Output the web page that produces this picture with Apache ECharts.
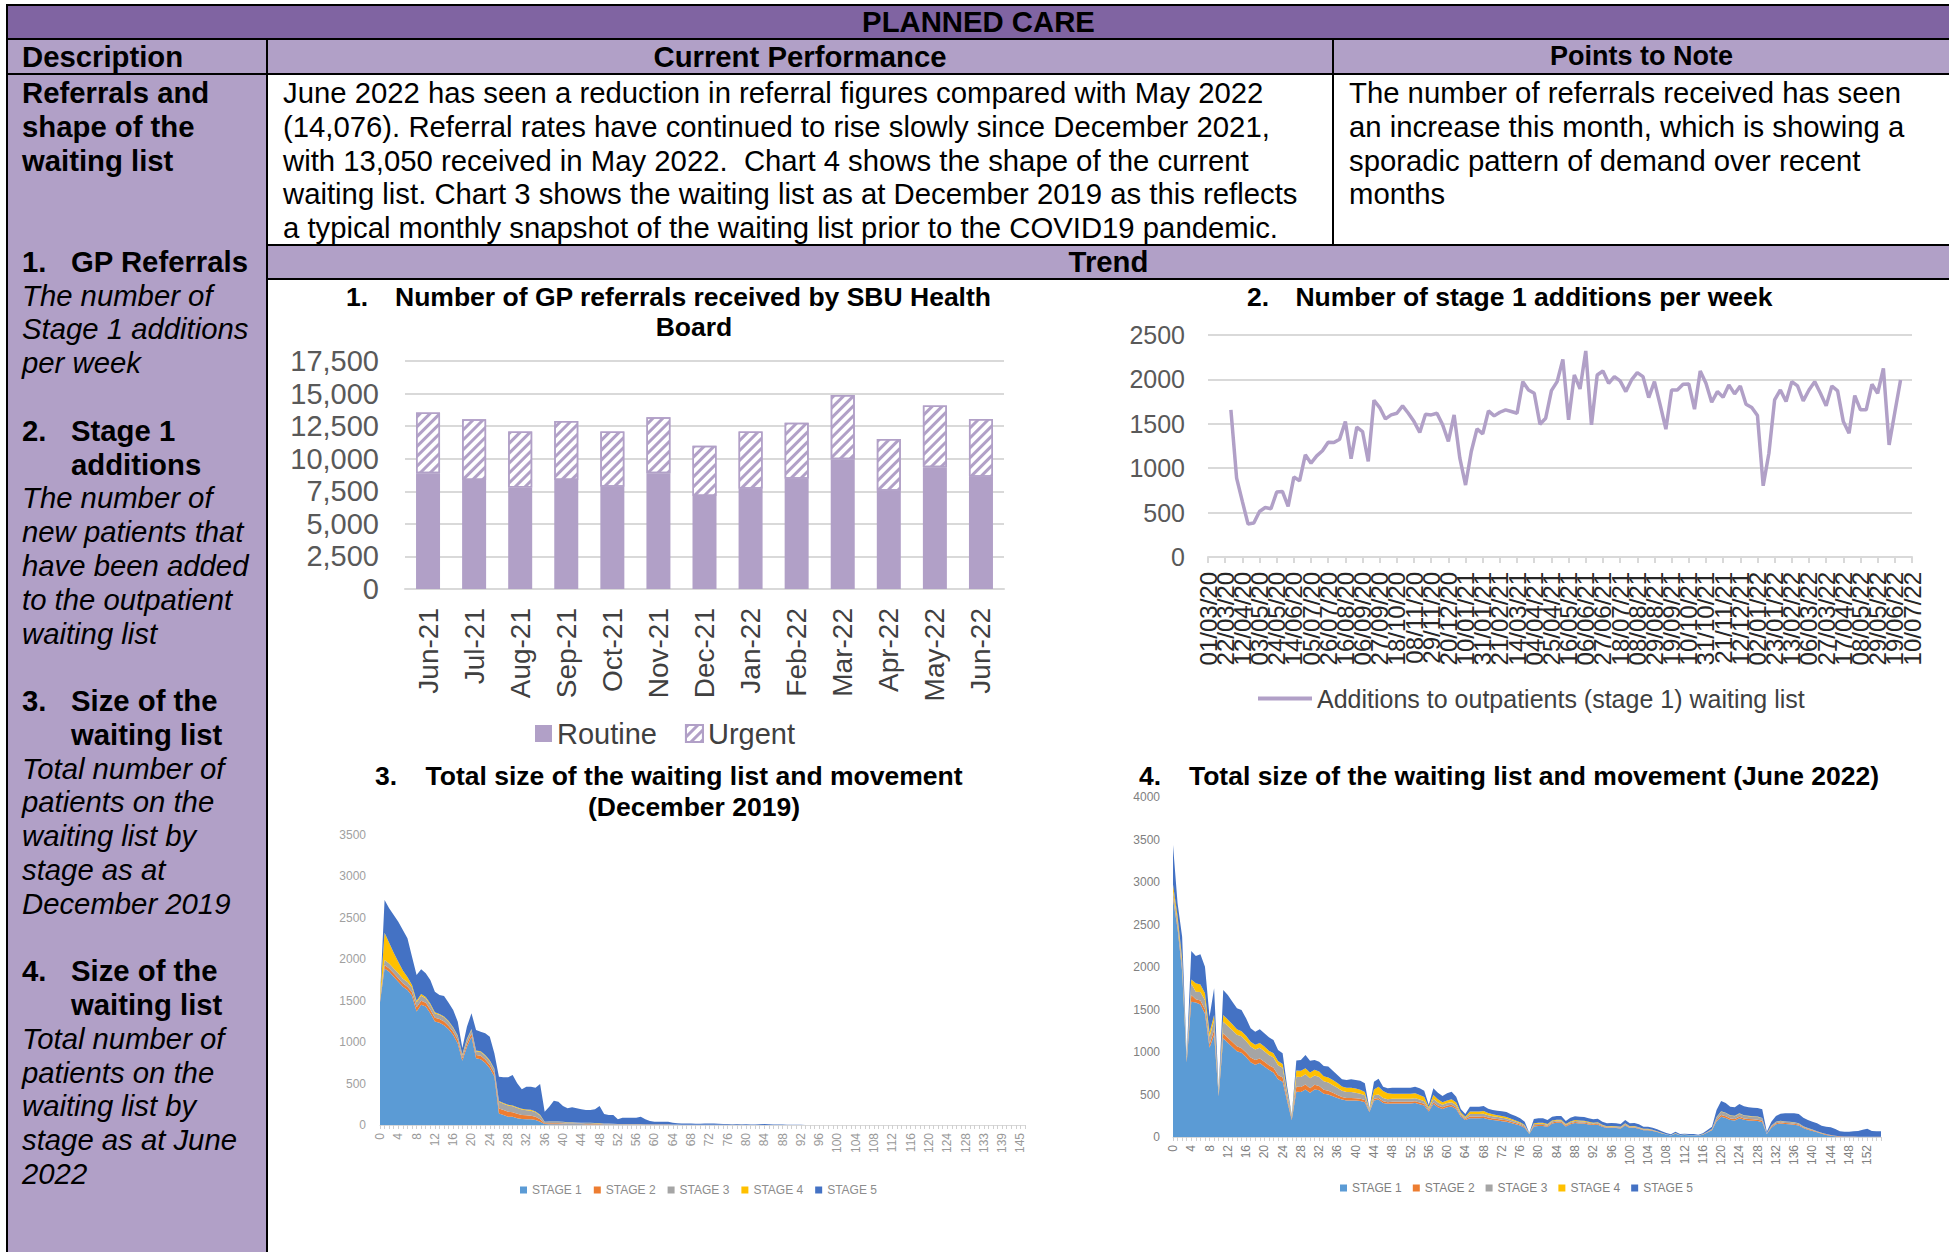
<!DOCTYPE html>
<html>
<head>
<meta charset="utf-8">
<title>Planned Care</title>
<script src="https://cdn.jsdelivr.net/npm/echarts@6/dist/echarts.min.js"></script>
<style>
  html, body { margin: 0; padding: 0; background: #fff; }
  body { width: 1949px; height: 1252px; position: relative; overflow: hidden;
         font-family: 'Liberation Sans', Arial, sans-serif; color: #000; }
  .box { position: absolute; }
  .dark { background: #8064A2; }
  .light { background: #B1A0C7; }
  .ln { position: absolute; background: #000; }
  .txt { position: absolute; font-size: 29.3px; line-height: 33.78px; white-space: nowrap; }
  .hd { font-weight: bold; text-align: center; }
  .num { display: inline-block; width: 49px; }
  #charts { position: absolute; left: 0; top: 0; width: 1949px; height: 1252px; }
</style>
</head>
<body>
<!-- table backgrounds -->
<div class="box dark" style="left:8px;top:6px;width:1941px;height:32px"></div>
<div class="box light" style="left:8px;top:40px;width:1941px;height:33px"></div>
<div class="box light" style="left:8px;top:75px;width:258px;height:1177px"></div>
<div class="box light" style="left:268px;top:246px;width:1681px;height:32px"></div>

<!-- table rules -->
<div class="ln" style="left:6px;top:4px;width:1943px;height:2px"></div>
<div class="ln" style="left:6px;top:4px;width:2px;height:1248px"></div>
<div class="ln" style="left:6px;top:38px;width:1943px;height:2px"></div>
<div class="ln" style="left:6px;top:73px;width:1943px;height:2px"></div>
<div class="ln" style="left:266px;top:40px;width:2px;height:1212px"></div>
<div class="ln" style="left:1332px;top:40px;width:2px;height:205px"></div>
<div class="ln" style="left:266px;top:244px;width:1683px;height:2px"></div>
<div class="ln" style="left:266px;top:278px;width:1683px;height:2px"></div>

<!-- headings -->
<div class="txt hd" style="left:8px;top:6px;width:1941px;line-height:32px">PLANNED CARE</div>
<div class="txt" style="left:22px;top:40px;line-height:33px;font-weight:bold">Description</div>
<div class="txt hd" style="left:268px;top:40px;width:1064px;line-height:33px">Current Performance</div>
<div class="txt hd" style="left:1334px;top:40px;width:615px;line-height:33px;font-size:27px">Points to Note</div>
<div class="txt hd" style="left:268px;top:246px;width:1681px;line-height:32px">Trend</div>

<div class="txt" style="left:283px;top:76px">
June 2022 has seen a reduction in referral figures compared with May 2022<br>
(14,076). Referral rates have continued to rise slowly since December 2021,<br>
with 13,050 received in May 2022.&nbsp; Chart 4 shows the shape of the current<br>
waiting list. Chart 3 shows the waiting list as at December 2019 as this reflects<br>
a typical monthly snapshot of the waiting list prior to the COVID19 pandemic.
</div>

<div class="txt" style="left:1349px;top:76px">
The number of referrals received has seen<br>
an increase this month, which is showing a<br>
sporadic pattern of demand over recent<br>
months
</div>

<div class="txt" style="left:22px;top:76px">
<div><b>Referrals and</b></div>
<div><b>shape of the</b></div>
<div><b>waiting list</b></div>
<div>&nbsp;</div>
<div>&nbsp;</div>
<div><b><span class="num">1.</span>GP Referrals</b></div>
<div><i>The number of</i></div>
<div><i>Stage 1 additions</i></div>
<div><i>per week</i></div>
<div>&nbsp;</div>
<div><b><span class="num">2.</span>Stage 1</b></div>
<div><b><span class="num"></span>additions</b></div>
<div><i>The number of</i></div>
<div><i>new patients that</i></div>
<div><i>have been added</i></div>
<div><i>to the outpatient</i></div>
<div><i>waiting list</i></div>
<div>&nbsp;</div>
<div><b><span class="num">3.</span>Size of the</b></div>
<div><b><span class="num"></span>waiting list</b></div>
<div><i>Total number of</i></div>
<div><i>patients on the</i></div>
<div><i>waiting list by</i></div>
<div><i>stage as at</i></div>
<div><i>December 2019</i></div>
<div>&nbsp;</div>
<div><b><span class="num">4.</span>Size of the</b></div>
<div><b><span class="num"></span>waiting list</b></div>
<div><i>Total number of</i></div>
<div><i>patients on the</i></div>
<div><i>waiting list by</i></div>
<div><i>stage as at June</i></div>
<div><i>2022</i></div>
</div>

<div id="charts"></div>

<script>
var FONT = '"Liberation Sans", Arial, sans-serif';
var LAV = '#B1A0C7';

// chart 1 - GP referrals
var months = ['Jun-21', 'Jul-21', 'Aug-21', 'Sep-21', 'Oct-21', 'Nov-21', 'Dec-21',
              'Jan-22', 'Feb-22', 'Mar-22', 'Apr-22', 'May-22', 'Jun-22'];
var routine = [8880, 8370, 7800, 8370, 7850, 8880, 7140, 7700, 8470, 9950, 7550, 9340, 8620];
var urgent = [4660, 4650, 4280, 4530, 4230, 4300, 3860, 4380, 4300, 4940, 3960, 4736, 4430];

// chart 2 - stage 1 additions per week (weeks from 01/03/20)
var additions = [null, null, null, null,
  1657, 888, 626, 371, 382, 513, 558, 543, 731, 738,
  570, 900, 858, 1151, 1057, 1139, 1196, 1293, 1289, 1327,
  1525, 1106, 1462, 1413, 1076, 1765, 1683, 1555, 1600, 1619,
  1702, 1619, 1525, 1402, 1608, 1600, 1619, 1488, 1301, 1600,
  1113, 810, 1188, 1443, 1387, 1645, 1589, 1630, 1657, 1638,
  1619, 1975, 1881, 1844, 1495, 1563, 1874, 1975, 2225, 1544,
  2050, 1893, 2320, 1488, 2050, 2095, 1956, 2031, 1983, 1863,
  1994, 2076, 2031, 1795, 1975, 1713, 1439, 1881, 1881, 1945,
  1949, 1664, 2095, 1956, 1743, 1863, 1799, 1938, 1837, 1926,
  1720, 1683, 1593, 802, 1169, 1769, 1881, 1750, 1975, 1926,
  1758, 1881, 1975, 1844, 1702, 1926, 1870, 1525, 1394, 1818,
  1657, 1657, 1945, 1844, 2125, 1263, 1630, 1994,
  null, null];

function pad(n) { return (n < 10 ? '0' : '') + n; }
var weeks = [];
for (var i = 0; i < additions.length; i++) {
  var d = new Date(2020, 2, 1 + 7 * i);
  weeks.push(pad(d.getDate()) + '/' + pad(d.getMonth() + 1) + '/' + String(d.getFullYear()).slice(2));
}

// chart 3 - waiting list by weeks waiting, December 2019
var weeks2019 = [];
for (var i = 0; i <= 128; i++) weeks2019.push(String(i));
weeks2019 = weeks2019.concat(['129', '130', '131', '133', '134', '136', '137', '139', '140', '142', '143', '145', '146']);

var dec19_s1 = [
  1480, 1890, 1850, 1790, 1730, 1670, 1630, 1560, 1370, 1450,
  1430, 1350, 1250, 1235, 1205, 1155, 1085, 985, 775, 945,
  1065, 805, 795, 750, 685, 585, 140, 120, 100, 100,
  80, 72, 68, 68, 60, 40, 12, 10, 10, 10,
  10, 8, 8, 8, 8, 6, 6, 6, 6, 5,
  5, 5, 4, 4, 4, 4, 4, 4, 3, 3,
  3, 3, 3, 3, 2, 2, 2, 2, 2, 2,
  2, 2, 2, 2, 2, 1, 1, 1, 1, 1,
  1, 1, 1, 1, 1, 1, 1, 1, 1, 1,
  0, 0, 0, 0, 0, 0, 0, 0, 0, 0,
  0, 0, 0, 0, 0, 0, 0, 0, 0, 0,
  0, 0, 0, 0, 0, 0, 0, 0, 0, 0,
  0, 0, 0, 0, 0, 0, 0, 0, 0, 0,
  0, 0, 0, 0, 0, 0, 0, 0, 0, 0,
  0, 0];
var dec19_s2 = [
  20, 40, 40, 40, 40, 40, 40, 45, 50, 50,
  45, 45, 45, 45, 45, 40, 40, 40, 30, 40,
  40, 40, 40, 40, 40, 40, 60, 60, 60, 55,
  55, 50, 50, 45, 40, 30, 10, 10, 10, 10,
  8, 8, 8, 6, 6, 6, 6, 5, 5, 4,
  4, 4, 3, 3, 3, 3, 3, 3, 2, 2,
  2, 2, 2, 2, 1, 1, 0, 0, 0, 0,
  0, 0, 0, 0, 0, 0, 0, 0, 0, 0,
  0, 0, 0, 0, 0, 0, 0, 0, 0, 0,
  0, 0, 0, 0, 0, 0, 0, 0, 0, 0,
  0, 0, 0, 0, 0, 0, 0, 0, 0, 0,
  0, 0, 0, 0, 0, 0, 0, 0, 0, 0,
  0, 0, 0, 0, 0, 0, 0, 0, 0, 0,
  0, 0, 0, 0, 0, 0, 0, 0, 0, 0,
  0, 0];
var dec19_s3 = [
  30, 60, 60, 60, 60, 55, 55, 55, 60, 60,
  55, 55, 50, 50, 50, 50, 45, 45, 40, 45,
  45, 45, 45, 45, 45, 45, 80, 75, 75, 70,
  70, 65, 60, 60, 55, 45, 15, 20, 20, 20,
  18, 15, 15, 15, 12, 12, 12, 10, 10, 8,
  8, 6, 5, 5, 5, 5, 5, 5, 4, 4,
  3, 3, 3, 3, 2, 2, 2, 2, 2, 2,
  1, 1, 1, 1, 1, 1, 1, 1, 1, 1,
  0, 0, 0, 0, 0, 0, 0, 0, 0, 0,
  0, 0, 0, 0, 0, 0, 0, 0, 0, 0,
  0, 0, 0, 0, 0, 0, 0, 0, 0, 0,
  0, 0, 0, 0, 0, 0, 0, 0, 0, 0,
  0, 0, 0, 0, 0, 0, 0, 0, 0, 0,
  0, 0, 0, 0, 0, 0, 0, 0, 0, 0,
  0, 0];
var dec19_s4 = [
  20, 330, 250, 190, 140, 100, 60, 30, 20, 20,
  15, 15, 15, 10, 10, 10, 10, 10, 10, 10,
  10, 10, 10, 10, 10, 10, 10, 10, 10, 10,
  10, 10, 10, 10, 8, 8, 3, 3, 3, 3,
  2, 2, 2, 2, 2, 2, 2, 2, 2, 1,
  1, 1, 1, 1, 1, 1, 1, 1, 1, 0,
  0, 0, 0, 0, 0, 0, 0, 0, 0, 0,
  0, 0, 0, 0, 0, 0, 0, 0, 0, 0,
  0, 0, 0, 0, 0, 0, 0, 0, 0, 0,
  0, 0, 0, 0, 0, 0, 0, 0, 0, 0,
  0, 0, 0, 0, 0, 0, 0, 0, 0, 0,
  0, 0, 0, 0, 0, 0, 0, 0, 0, 0,
  0, 0, 0, 0, 0, 0, 0, 0, 0, 0,
  0, 0, 0, 0, 0, 0, 0, 0, 0, 0,
  0, 0];
var dec19_s5 = [
  0, 396, 415, 454, 484, 488, 468, 342, 310, 299,
  285, 285, 249, 229, 247, 221, 208, 167, 75, 147,
  188, 247, 236, 261, 286, 185, 293, 310, 330, 368,
  288, 233, 275, 280, 287, 372, 121, 178, 251, 239,
  191, 168, 180, 170, 161, 155, 155, 166, 206, 115,
  103, 105, 55, 76, 76, 76, 76, 88, 58, 39,
  32, 32, 32, 32, 23, 15, 15, 15, 14, 12,
  12, 14, 16, 14, 12, 10, 10, 8, 10, 8,
  8, 6, 6, 8, 10, 8, 6, 5, 4, 3,
  2, 2, 2, 1, 1, 1, 1, 1, 0, 0,
  0, 0, 0, 0, 0, 0, 0, 0, 0, 0,
  0, 0, 0, 0, 0, 0, 0, 0, 0, 0,
  0, 0, 0, 0, 0, 0, 0, 0, 0, 0,
  0, 0, 0, 0, 0, 0, 0, 0, 0, 0,
  0, 0];

// chart 4 - waiting list by weeks waiting, June 2022
var weeks2022 = [];
for (var i = 0; i <= 155; i++) weeks2022.push(String(i));

var jun22_s1 = [
  2800, 2450, 1950, 880, 1592, 1581, 1560, 1450, 1050, 1200,
  480, 1161, 1110, 1060, 1010, 990, 940, 880, 850, 870,
  830, 790, 760, 680, 650, 420, 200, 533, 530, 560,
  520, 560, 550, 510, 500, 480, 460, 440, 430, 430,
  430, 425, 410, 290, 430, 440, 400, 390, 395, 395,
  395, 395, 395, 400, 385, 370, 300, 390, 350, 330,
  350, 360, 330, 240, 200, 220, 220, 220, 225, 210,
  200, 195, 185, 180, 165, 150, 135, 110, 35, 125,
  130, 130, 120, 160, 169, 169, 125, 150, 165, 160,
  158, 148, 140, 145, 120, 105, 108, 105, 100, 135,
  105, 108, 97, 80, 80, 72, 58, 42, 28, 18,
  38, 20, 23, 20, 20, 15, 26, 52, 80, 185,
  239, 225, 200, 195, 220, 202, 195, 192, 188, 175,
  35, 110, 150, 160, 153, 150, 145, 135, 105, 85,
  70, 55, 38, 25, 15, 8, 4, 3, 2, 2,
  2, 2, 2, 2, 1, 1];
var jun22_s2 = [
  30, 30, 30, 20, 78, 39, 45, 50, 40, 59,
  15, 59, 59, 59, 59, 55, 55, 55, 55, 55,
  55, 55, 55, 50, 50, 30, 15, 59, 59, 59,
  55, 55, 50, 45, 45, 40, 35, 30, 30, 30,
  25, 25, 25, 10, 20, 20, 20, 20, 20, 20,
  20, 20, 20, 20, 20, 20, 15, 20, 20, 20,
  20, 20, 18, 15, 12, 20, 20, 20, 20, 18,
  18, 17, 17, 16, 15, 14, 12, 10, 3, 12,
  12, 12, 11, 12, 12, 12, 10, 12, 12, 12,
  12, 11, 10, 11, 9, 8, 8, 8, 7, 10,
  8, 8, 7, 6, 6, 5, 4, 3, 2, 1,
  3, 2, 2, 2, 2, 1, 2, 4, 6, 15,
  20, 19, 17, 17, 18, 17, 17, 16, 16, 15,
  3, 10, 12, 13, 13, 13, 12, 12, 10, 9,
  8, 7, 6, 6, 6, 6, 5, 4, 4, 3,
  2, 2, 2, 1, 1, 1];
var jun22_s3 = [
  60, 60, 70, 30, 137, 90, 100, 110, 90, 118,
  25, 137, 137, 137, 135, 140, 135, 130, 125, 125,
  125, 120, 120, 115, 115, 60, 25, 118, 118, 118,
  115, 110, 105, 100, 95, 90, 85, 75, 70, 70,
  65, 60, 55, 20, 40, 40, 40, 35, 35, 35,
  35, 35, 35, 35, 35, 30, 20, 40, 35, 30,
  30, 30, 28, 20, 15, 30, 30, 30, 30, 28,
  25, 25, 25, 22, 20, 18, 16, 14, 4, 15,
  15, 15, 14, 13, 12, 12, 10, 12, 12, 12,
  12, 11, 10, 11, 9, 8, 8, 8, 8, 10,
  8, 8, 7, 6, 6, 5, 4, 3, 2, 1,
  3, 2, 2, 2, 2, 1, 2, 5, 8, 30,
  39, 37, 33, 32, 35, 33, 32, 32, 31, 30,
  5, 12, 15, 15, 14, 14, 13, 13, 10, 9,
  7, 6, 4, 3, 2, 1, 1, 0, 0, 0,
  0, 0, 0, 0, 0, 0];
var jun22_s4 = [
  80, 60, 50, 15, 47, 98, 90, 80, 50, 59,
  15, 78, 75, 70, 65, 60, 60, 55, 55, 55,
  55, 50, 50, 50, 45, 25, 10, 71, 71, 71,
  70, 65, 65, 60, 60, 60, 55, 50, 50, 50,
  50, 45, 40, 10, 70, 90, 80, 70, 60, 60,
  60, 60, 60, 60, 55, 50, 15, 45, 40, 30,
  30, 35, 30, 15, 10, 30, 30, 30, 30, 25,
  25, 20, 20, 18, 15, 12, 10, 8, 2, 10,
  10, 10, 9, 10, 10, 10, 8, 9, 10, 10,
  9, 8, 8, 8, 7, 6, 6, 6, 6, 7,
  6, 6, 5, 4, 4, 4, 3, 2, 1, 1,
  2, 1, 1, 1, 1, 1, 1, 2, 3, 5,
  5, 5, 5, 5, 5, 5, 5, 5, 5, 5,
  1, 3, 3, 3, 3, 3, 3, 3, 2, 2,
  2, 1, 1, 1, 0, 0, 0, 0, 0, 0,
  0, 0, 0, 0, 0, 0];
var jun22_s5 = [
  466, 149, 257, 20, 333, 322, 354, 314, 186, 314,
  18, 294, 290, 266, 245, 249, 206, 159, 154, 162,
  155, 158, 156, 129, 124, 57, 9, 118, 128, 157,
  138, 116, 116, 120, 128, 110, 94, 83, 91, 98,
  101, 108, 101, 7, 91, 96, 52, 58, 70, 70,
  70, 70, 70, 77, 78, 75, 26, 78, 77, 72,
  84, 88, 69, 40, 33, 57, 57, 57, 60, 52,
  50, 53, 55, 58, 52, 53, 47, 38, 3, 50,
  53, 53, 46, 44, 44, 44, 35, 44, 44, 45,
  44, 42, 40, 41, 35, 34, 35, 34, 32, 38,
  34, 35, 33, 26, 26, 24, 21, 17, 14, 10,
  17, 10, 11, 10, 10, 9, 12, 19, 25, 83,
  121, 114, 102, 100, 110, 104, 100, 100, 101, 101,
  19, 45, 67, 84, 95, 98, 105, 108, 100, 95,
  93, 92, 84, 87, 91, 79, 57, 56, 57, 62,
  67, 82, 94, 68, 65, 65];

var stageNames = ['STAGE 1', 'STAGE 2', 'STAGE 3', 'STAGE 4', 'STAGE 5'];
var stageColors = ['#5B9BD5', '#ED7D31', '#A5A5A5', '#FFC000', '#4472C4'];

var chart = echarts.init(document.getElementById('charts'), null, { renderer: 'svg' });

function stage(idx, data, axis, stackName) {
  return {
    name: stageNames[idx], type: 'line',
    xAxisIndex: axis, yAxisIndex: axis, stack: stackName,
    data: data, symbol: 'none', smooth: false,
    lineStyle: { width: 0 },
    areaStyle: { color: stageColors[idx], opacity: 1 },
    itemStyle: { color: stageColors[idx] }
  };
}

function titleText(x, y, text, align) {
  return {
    type: 'text', x: x, y: y, silent: true,
    style: { text: text, fill: '#000', font: 'bold 26.5px ' + FONT,
             textAlign: align, textVerticalAlign: 'middle' }
  };
}

function plain(v) { return String(v); }

// every third week gets a label; the axis shows all slots so none get dropped
function everyThird(v, idx) { return idx % 3 === 0 ? v : ''; }

var option = {
  animation: false,
  backgroundColor: 'transparent',
  textStyle: { fontFamily: FONT },
  graphic: [
    titleText(346, 297, '1.', 'left'),
    titleText(693, 297, 'Number of GP referrals received by SBU Health', 'center'),
    titleText(694, 327, 'Board', 'center'),
    titleText(1247, 297, '2.', 'left'),
    titleText(1534, 297, 'Number of stage 1 additions per week', 'center'),
    titleText(375, 776, '3.', 'left'),
    titleText(694, 776, 'Total size of the waiting list and movement', 'center'),
    titleText(694, 807, '(December 2019)', 'center'),
    titleText(1139, 776, '4.', 'left'),
    titleText(1534, 776, 'Total size of the waiting list and movement (June 2022)', 'center')
  ],
  legend: [
    { data: ['Routine', 'Urgent'], left: 530, top: 714, icon: 'rect',
      itemWidth: 17, itemHeight: 17, itemGap: 28,
      textStyle: { fontSize: 29, color: '#404040' } },
    { data: ['Additions to outpatients (stage 1) waiting list'], left: 1253, top: 681,
      icon: 'rect', itemWidth: 54, itemHeight: 4,
      textStyle: { fontSize: 25, color: '#404040' } },
    { data: stageNames, left: 515, top: 1179, icon: 'rect',
      itemWidth: 7, itemHeight: 7, itemGap: 12,
      textStyle: { fontSize: 12, color: '#8c8c8c' } },
    { data: stageNames, left: 1335, top: 1177, icon: 'rect',
      itemWidth: 7, itemHeight: 7, itemGap: 11,
      textStyle: { fontSize: 12, color: '#7f7f7f' } }
  ],
  grid: [
    { left: 405, top: 361, width: 599, height: 228, outerBoundsMode: 'none' },
    { left: 1208, top: 335, width: 704, height: 222, outerBoundsMode: 'none' },
    { left: 380, top: 835, width: 645, height: 290, outerBoundsMode: 'none' },
    { left: 1173, top: 797, width: 708, height: 340, outerBoundsMode: 'none' }
  ],
  xAxis: [
    { type: 'category', gridIndex: 0, data: months,
      axisLine: { lineStyle: { color: '#D9D9D9', width: 2 } },
      axisTick: { show: false },
      axisLabel: { rotate: 90, fontSize: 28, color: '#404040', margin: 19, interval: 0 } },
    { type: 'category', gridIndex: 1, data: weeks, boundaryGap: false,
      axisLine: { lineStyle: { color: '#D9D9D9', width: 2 } },
      axisTick: { show: true, interval: 2, length: 6, lineStyle: { color: '#D9D9D9', width: 2 } },
      axisLabel: { rotate: 90, fontSize: 24, color: '#262626', margin: 15,
                   interval: 0, hideOverlap: false, formatter: everyThird } },
    { type: 'category', gridIndex: 2, data: weeks2019, boundaryGap: false,
      axisLine: { lineStyle: { color: '#D9D9D9', width: 1 } },
      axisTick: { show: true, interval: 0, length: 4, lineStyle: { color: '#D0D0D0' } },
      axisLabel: { rotate: 90, fontSize: 12, color: '#999999', margin: 8, interval: 3,
                   showMinLabel: true } },
    { type: 'category', gridIndex: 3, data: weeks2022, boundaryGap: false,
      axisLine: { lineStyle: { color: '#D9D9D9', width: 1 } },
      axisTick: { show: true, interval: 0, length: 4, lineStyle: { color: '#D0D0D0' } },
      axisLabel: { rotate: 90, fontSize: 12, color: '#808080', margin: 8, interval: 3,
                   showMinLabel: true } }
  ],
  yAxis: [
    { type: 'value', gridIndex: 0, min: 0, max: 17500, interval: 2500,
      axisLine: { show: false }, axisTick: { show: false },
      splitLine: { lineStyle: { color: '#D9D9D9', width: 2 } },
      axisLabel: { fontSize: 29, color: '#595959', margin: 26,
                   formatter: function (v) { return v.toLocaleString('en-US'); } } },
    { type: 'value', gridIndex: 1, min: 0, max: 2500, interval: 500,
      axisLine: { show: false }, axisTick: { show: false },
      splitLine: { lineStyle: { color: '#D9D9D9', width: 2 } },
      axisLabel: { fontSize: 25, color: '#595959', margin: 23, formatter: plain } },
    { type: 'value', gridIndex: 2, min: 0, max: 3500, interval: 500,
      axisLine: { show: false }, axisTick: { show: false }, splitLine: { show: false },
      axisLabel: { fontSize: 12, color: '#a0a0a0', margin: 14, formatter: plain } },
    { type: 'value', gridIndex: 3, min: 0, max: 4000, interval: 500,
      axisLine: { show: false }, axisTick: { show: false }, splitLine: { show: false },
      axisLabel: { fontSize: 12, color: '#808080', margin: 13, formatter: plain } }
  ],
  series: [
    { name: 'Routine', type: 'bar', xAxisIndex: 0, yAxisIndex: 0, stack: 'gp',
      barWidth: 24, data: routine, itemStyle: { color: LAV } },
    { name: 'Urgent', type: 'bar', xAxisIndex: 0, yAxisIndex: 0, stack: 'gp',
      barWidth: 24, data: urgent,
      itemStyle: { color: '#ffffff', borderColor: LAV, borderWidth: 1.5,
        decal: { symbol: 'rect', symbolSize: 1, color: LAV, backgroundColor: '#ffffff',
                 dashArrayX: [1, 0], dashArrayY: [2.5, 3.5], rotation: -Math.PI / 4 } } },
    { name: 'Additions to outpatients (stage 1) waiting list', type: 'line',
      xAxisIndex: 1, yAxisIndex: 1, data: additions, symbol: 'none',
      lineStyle: { width: 3.5, color: LAV }, itemStyle: { color: LAV } },
    stage(0, dec19_s1, 2, 'dec19'),
    stage(1, dec19_s2, 2, 'dec19'),
    stage(2, dec19_s3, 2, 'dec19'),
    stage(3, dec19_s4, 2, 'dec19'),
    stage(4, dec19_s5, 2, 'dec19'),
    stage(0, jun22_s1, 3, 'jun22'),
    stage(1, jun22_s2, 3, 'jun22'),
    stage(2, jun22_s3, 3, 'jun22'),
    stage(3, jun22_s4, 3, 'jun22'),
    stage(4, jun22_s5, 3, 'jun22')
  ]
};

chart.setOption(option);
</script>
</body>
</html>
